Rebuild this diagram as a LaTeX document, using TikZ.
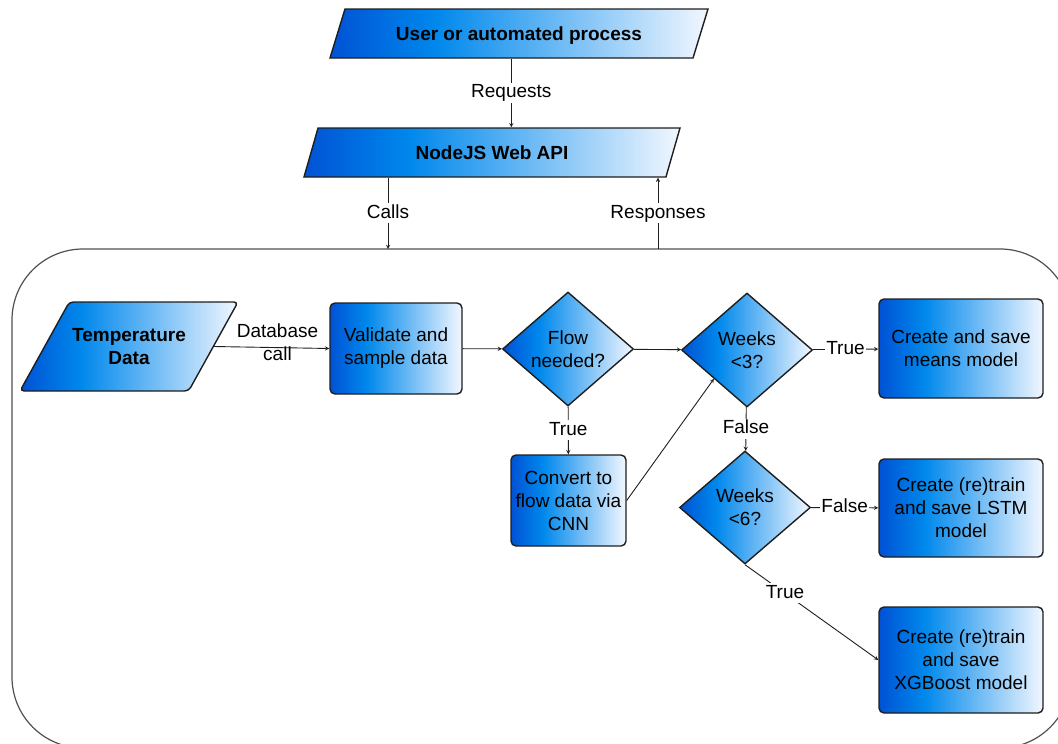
\documentclass[tikz,border=0pt]{standalone}
\usepackage{fontspec}
\setmainfont{Liberation Sans}
\usetikzlibrary{positioning}
\usetikzlibrary{arrows}
\usetikzlibrary{shapes.geometric}
\definecolor{flowdark}{RGB}{0,82,212}
\definecolor{flowmid}{RGB}{0,136,236}
\definecolor{flowlight}{RGB}{242,247,255}
\definecolor{edgegray}{HTML}{1E1E1E}
\definecolor{framegray}{HTML}{505050}
\pgfdeclarehorizontalshading{flowfill}{100bp}{color(0bp)=(flowdark); color(25bp)=(flowdark); color(39bp)=(flowmid); color(75bp)=(flowlight); color(100bp)=(flowlight)}
\tikzset {
  % blue to white fill used by every shape
  blueshade/.style = {shading=flowfill, draw=edgegray, line width=1.4pt},
  % input / output parallelograms
  io/.style = {trapezium, trapezium stretches body, blueshade, align=center, inner sep=2pt,
               font=\fontsize{19}{23}\selectfont\bfseries},
  % plain steps
  process/.style = {rectangle, rounded corners=5pt, blueshade, align=center, inner sep=2pt},
  % yes / no questions
  decision/.style = {diamond, aspect=1.15, blueshade, align=center, inner sep=0pt},
  % connectors and their texts
  conn/.style = {->, draw=edgegray, line width=0.9pt},
  edgelabel/.style = {fill=white, inner sep=1pt, text height=14pt, text depth=4pt},
}

\begin{document}
\begin{tikzpicture}[x=1pt, y=-1pt, font=\fontsize{19}{23}\selectfont, >=stealth]
      \useasboundingbox (0,0) rectangle (1058,744);
      \clip (0,0) rectangle (1058,744);

      \node[io, trapezium left angle=73, trapezium right angle=107, text height=29.3pt, text depth=15.7pt,
            minimum width=378pt, minimum height=49pt] (user) at (519,33.5) {User or automated process};
      \node[io, trapezium left angle=74, trapezium right angle=106, text height=29.3pt, text depth=15.7pt,
            minimum width=376pt, minimum height=49pt] (api) at (492,152.5) {NodeJS Web API};

      % the service box
      \node[draw=framegray, line width=1.2pt, rounded corners=71pt, minimum width=1059pt,
            minimum height=499pt, inner sep=0pt] (backend) at (541.5,498.5) {};
      \coordinate (callsin) at (388,249);
      \coordinate (respout) at (658,249);

      \draw [conn] (user.bottom side) -- (user.bottom side |- api.north) node[edgelabel, midway] {Requests};
      \draw [conn] (api.south -| callsin) -- (callsin) node[edgelabel, midway] {Calls};
      \draw [conn] (respout) -- (respout |- api.south) node[edgelabel, midway] {Responses};

      \node[io, rounded corners=4pt, trapezium left angle=61, trapezium right angle=119,
            text height=60.8pt, text depth=24.2pt,
            minimum width=218pt, minimum height=89pt] (temp) at (129,346.5) {Temperature\\Data};
      \node[process, minimum width=132pt, minimum height=91pt] (validate) at (396,348.5) {Validate and\\sample data};
      \node[decision, minimum width=131pt, minimum height=114pt] (flow) at (568,349) {Flow\\needed?};
      \node[decision, minimum width=131pt, minimum height=114pt] (w3) at (747,350) {Weeks\\<3?};
      \node[process, minimum width=115pt, minimum height=91pt] (convert) at (568.5,500.5) {Convert to\\flow data via\\CNN};
      \node[decision, minimum width=131pt, minimum height=113pt] (w6) at (745,507.5) {Weeks\\<6?};
      \node[process, minimum width=164pt, minimum height=99pt] (means) at (961,348.5) {Create and save\\means model};
      \node[process, minimum width=164pt, minimum height=98pt] (lstm) at (961,508) {Create (re)train\\and save LSTM\\model};
      \node[process, minimum width=164pt, minimum height=106pt] (xgb) at (961,660) {Create (re)train\\and save\\XGBoost model};

      \draw [conn] (temp.east) -- (validate.west) node[pos=0.55, yshift=5pt, align=center] {Database\\call};
      \draw [conn] (validate) -- (flow);
      \draw [conn] (flow) -- (w3);
      \draw [conn] (flow) -- (convert) node[edgelabel, midway] {True};
      \draw [conn] (convert.east) -- (w3.south west);
      \draw [conn] (w3) -- (means) node[edgelabel, midway] {True};
      \draw [conn] (w3) -- (w6) node[edgelabel, midway] {False};
      \draw [conn] (w6) -- (lstm) node[edgelabel, midway] {False};
      \draw [conn] (w6.south) -- (xgb.west) node[edgelabel, pos=0.3] {True};
    \end{tikzpicture}
\end{document}
